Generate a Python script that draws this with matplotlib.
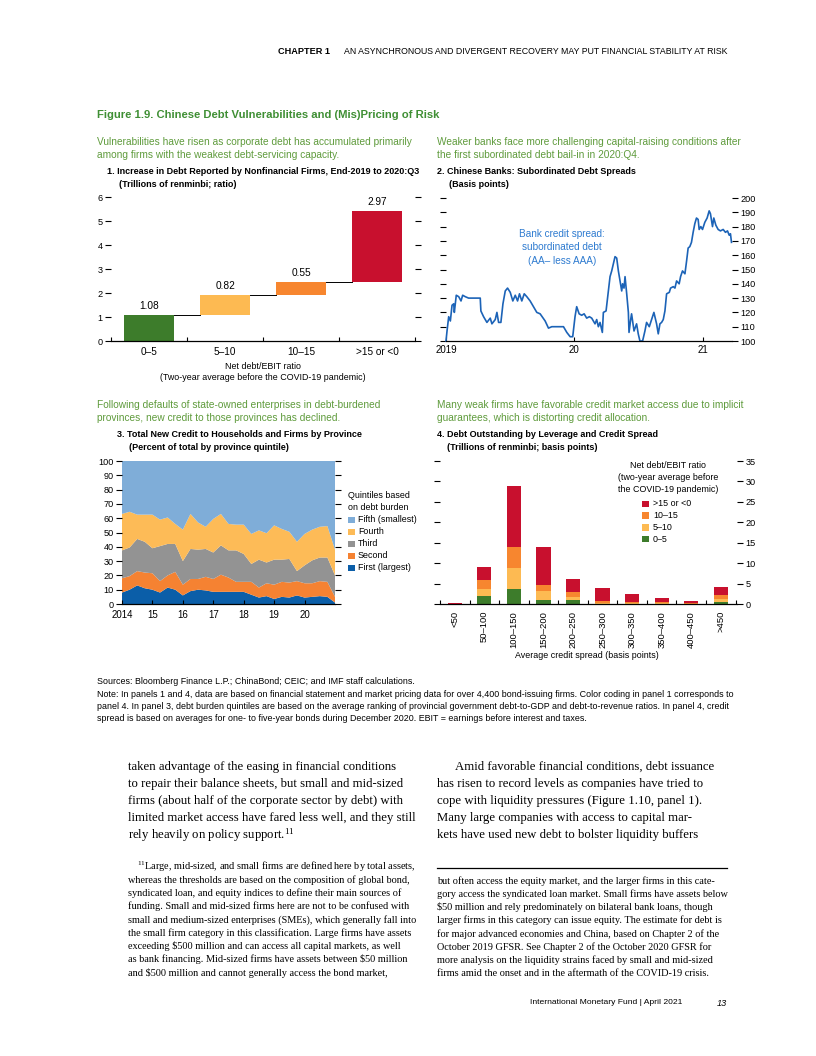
import numpy as np
import pandas as pd
import matplotlib
matplotlib.use('Agg')
import matplotlib.pyplot as plt
from matplotlib.patches import Rectangle

plt.rcParams['font.family'] = ['Liberation Sans', 'DejaVu Sans']
plt.rcParams['mathtext.fontset'] = 'custom'
plt.rcParams['mathtext.rm'] = 'Liberation Serif'
plt.rcParams['mathtext.it'] = 'Liberation Serif:italic'

SERIF = ['Liberation Serif', 'DejaVu Serif']

# colours
GREEN = '#3d7c2b'
YELLOW = '#fdba52'
ORANGE = '#f7862f'
RED = '#c8102e'
LINE_BLUE = '#1c63b7'
TEXT_BLUE = '#2e7bd0'
Q_FIFTH = '#7fadd8'
Q_FOURTH = '#fdbb57'
Q_THIRD = '#939393'
Q_SECOND = '#f58232'
Q_FIRST = '#0b5ea8'
TITLE_GREEN = '#3f8f34'
SUB_GREEN = '#5f9b3c'

# panel 1: increase in debt by net debt/EBIT group (trillions of renminbi)
p1_groups = ['0\u20135', '5\u201310', '10\u201315', '>15 or <0']
p1_increase = [1.08, 0.82, 0.55, 2.97]

# panel 2: subordinated debt spread, AA- less AAA (basis points), by year
p2_years = [0.000, 0.008, 0.021, 0.034, 0.047, 0.060, 0.065, 0.080, 0.099, 0.117,
            0.130, 0.150, 0.176, 0.202, 0.267, 0.272, 0.293, 0.319, 0.345, 0.358,
            0.384, 0.397, 0.410, 0.428, 0.444, 0.462, 0.480, 0.501, 0.521, 0.540,
            0.558, 0.573, 0.591, 0.610, 0.630, 0.656, 0.682, 0.708, 0.734, 0.773,
            0.799, 0.825, 0.864, 0.916, 0.942, 0.968, 0.988, 1.006, 1.019, 1.038,
            1.058, 1.077, 1.097, 1.118, 1.136, 1.162, 1.175, 1.188, 1.201, 1.219,
            1.227, 1.248, 1.266, 1.279, 1.292, 1.305, 1.318, 1.331, 1.344, 1.357,
            1.370, 1.377, 1.388, 1.396, 1.409, 1.422, 1.427, 1.440, 1.447, 1.466,
            1.486, 1.499, 1.512, 1.533, 1.551, 1.564, 1.585, 1.603, 1.621, 1.642,
            1.655, 1.668, 1.681, 1.694, 1.707, 1.720, 1.741, 1.751, 1.772, 1.785,
            1.798, 1.818, 1.829, 1.844, 1.863, 1.876, 1.888, 1.901, 1.914, 1.927,
            1.940, 1.953, 1.966, 1.974, 1.987, 2.000, 2.018, 2.036, 2.052, 2.062,
            2.078, 2.088, 2.104, 2.122, 2.140, 2.161, 2.179, 2.195, 2.208, 2.218,
            2.226]
p2_spread = [100, 107, 117, 114, 125, 126, 120, 132, 131, 128,
             132, 131, 130, 130, 130, 121, 117, 113, 116, 112,
             115, 120, 113, 113, 126, 135, 137, 134, 128, 132,
             128, 133, 128, 133, 131, 128, 124, 120, 119, 114,
             109, 110, 110, 110, 106, 103, 103, 117, 124, 119,
             118, 119, 116, 117, 116, 112, 115, 110, 113, 106,
             120, 121, 135, 145, 149, 154, 159, 158, 149, 142,
             135, 140, 137, 145, 133, 120, 106, 115, 119, 107,
             112, 105, 100, 100, 107, 113, 110, 115, 120, 112,
             105, 112, 113, 115, 121, 133, 134, 137, 138, 137,
             142, 140, 145, 149, 147, 156, 165, 166, 169, 176,
             182, 186, 185, 178, 180, 178, 183, 186, 191, 189,
             180, 186, 181, 178, 177, 178, 176, 177, 174, 175,
             169]

# panel 3: share of new credit by province quintile (percent)
p3_quarters = pd.period_range('2014Q1', '2021Q1', freq='Q')
p3_first = [8, 10, 13, 11, 10, 8, 11.5, 10, 6, 9, 10, 9.5, 8.5, 8.5, 8.5,
            8.5, 8.5, 6.5, 4.5, 5.5, 3.5, 5, 4.5, 6, 4.5, 5, 5.5, 5, 1]
p3_second = [10, 9.5, 10, 11, 11.5, 8, 8.5, 12.5, 7.5, 8.5, 7.5, 9.5, 9, 12, 10,
             7, 7, 9, 7, 9, 10, 10.5, 10.5, 10, 10, 9.5, 10.5, 10.5, 4]
p3_third = [19.5, 20, 22.5, 21.5, 17.5, 24.5, 22, 19.5, 16.5, 21, 20.5, 19.5, 18.5, 20.5, 19,
            22, 19.5, 12.5, 19.5, 14.5, 17.5, 15.5, 16.5, 7, 12.5, 16, 16.5, 17, 15]
p3_fourth = [25.5, 25, 17, 19, 23.5, 18.5, 18.5, 14, 22, 24.5, 19, 15.5, 23.5, 22, 18.5,
             18, 20.5, 21, 20.5, 20.5, 24, 21.5, 19, 20.5, 22, 21.5, 21.5, 22, 18]
p3_fifth = [37, 35.5, 37.5, 37.5, 37.5, 41, 39.5, 44, 48, 37, 43, 46, 40.5, 37, 44,
            44.5, 44.5, 51, 48.5, 50.5, 45, 47.5, 49.5, 56.5, 51, 48, 46, 45.5, 62]
p3_legend = ['Fifth (smallest)', 'Fourth', 'Third', 'Second', 'First (largest)']

# panel 4: debt outstanding by credit spread bucket and leverage (trillions of renminbi)
p4_buckets = ['<50', '50\u2013100', '100\u2013150', '150\u2013200', '200\u2013250',
              '250\u2013300', '300\u2013350', '350\u2013400', '400\u2013450', '>450']
p4_0_5 = [0.0, 1.9, 3.6, 0.9, 0.9, 0.1, 0.05, 0.05, 0.0, 0.45]
p4_5_10 = [0.0, 1.7, 5.1, 2.2, 0.7, 0.15, 0.3, 0.1, 0.05, 0.7]
p4_10_15 = [0.05, 2.2, 5.2, 1.5, 1.3, 0.4, 0.15, 0.3, 0.15, 0.95]
p4_15_plus = [0.25, 3.2, 15.1, 9.3, 3.1, 3.35, 1.9, 0.95, 0.45, 2.0]
p4_legend = ['>15 or <0', '10\u201315', '5\u201310', '0\u20135']

W, H = 816, 1056
fig = plt.figure(figsize=(W / 100, H / 100), dpi=100)

SUB = 7.25     # green lead-in text
TTL = 6.45     # bold panel titles
TICK = 6.6
LEG = 6.4


def box(l, t, r, b):
    return [l / W, 1 - b / H, (r - l) / W, (b - t) / H]


def ftext(x, y, s, **kw):
    kw.setdefault('va', 'center')
    kw.setdefault('ha', 'left')
    return fig.text(x / W, 1 - y / H, s, **kw)


def swatch(x, y, color, size=7):
    fig.add_artist(Rectangle((x / W, 1 - (y + size / 2) / H), size / W, size / H,
                             transform=fig.transFigure, color=color, lw=0))


def style(ax, left_labels):
    for s in ['top', 'left', 'right']:
        ax.spines[s].set_visible(False)
    ax.spines['bottom'].set_linewidth(0.9)
    ax.tick_params(axis='y', which='both', left=True, right=True, length=4, width=0.8,
                   direction='out', labelsize=TICK, pad=2,
                   labelleft=left_labels, labelright=not left_labels)
    ax.tick_params(axis='x', labelsize=TICK)


# header
ftext(727, 52, 'AN ASYNCHRONOUS AND DIVERGENT RECOVERY MAY PUT FINANCIAL STABILITY AT RISK',
      ha='right', fontsize=6.3)
ftext(330, 52, 'CHAPTER 1', ha='right', fontsize=6.6, fontweight='bold')
ftext(97, 115, 'Figure 1.9. Chinese Debt Vulnerabilities and (Mis)Pricing of Risk',
      fontsize=8.1, fontweight='bold', color=TITLE_GREEN)

# ---------- panel 1 ----------
ftext(97, 142, 'Vulnerabilities have risen as corporate debt has accumulated primarily',
      fontsize=SUB, color=SUB_GREEN)
ftext(97, 155, 'among firms with the weakest debt-servicing capacity.', fontsize=SUB, color=SUB_GREEN)
ftext(107, 172, '1. Increase in Debt Reported by Nonfinancial Firms, End-2019 to 2020:Q3',
      fontsize=TTL, fontweight='bold')
ftext(119, 184, '(Trillions of renminbi; ratio)', fontsize=TTL, fontweight='bold')

ax1 = fig.add_axes(box(111, 197, 415, 341))
p1_x = np.arange(len(p1_increase))
p1_bottom = np.concatenate([[0], np.cumsum(p1_increase)[:-1]])
p1_top = np.cumsum(p1_increase)
bw = 0.67
ax1.bar(p1_x, p1_increase, bottom=p1_bottom, width=bw,
        color=[GREEN, YELLOW, ORANGE, RED], lw=0)
for i in range(len(p1_increase) - 1):
    ax1.plot([p1_x[i] + bw / 2, p1_x[i + 1] - bw / 2], [p1_top[i], p1_top[i]],
             color='black', lw=0.7)
for i, v in enumerate(p1_increase):
    ax1.annotate(f'{v:.2f}', (p1_x[i], p1_top[i]), xytext=(0, 3),
                 textcoords='offset points', ha='center', va='bottom', fontsize=7.3)
ax1.set_xlim(-0.5, 3.5)
ax1.set_ylim(0, 6)
ax1.set_yticks(range(0, 7))
style(ax1, True)
ax1.set_xticks(p1_x, p1_groups)
ax1.set_xticks(np.arange(-0.5, 4, 1), minor=True)
ax1.tick_params(axis='x', which='major', length=0, pad=4, labelsize=7.2)
ax1.tick_params(axis='x', which='minor', length=3, width=0.8, direction='in')
ftext(263, 366, 'Net debt/EBIT ratio', ha='center', fontsize=6.4)
ftext(263, 378, '(Two-year average before the COVID-19 pandemic)', ha='center', fontsize=6.4)

# ---------- panel 2 ----------
ftext(437, 142, 'Weaker banks face more challenging capital-raising conditions after',
      fontsize=SUB, color=SUB_GREEN)
ftext(437, 155, 'the first subordinated debt bail-in in 2020:Q4.', fontsize=SUB, color=SUB_GREEN)
ftext(437, 172, '2. Chinese Banks: Subordinated Debt Spreads', fontsize=TTL, fontweight='bold')
ftext(449, 184, '(Basis points)', fontsize=TTL, fontweight='bold')

ax2 = fig.add_axes(box(446, 198, 732, 341))
ax2.plot(2019 + np.array(p2_years), p2_spread, color=LINE_BLUE, lw=1.2, clip_on=False)
ax2.set_xlim(2019, 2021.23)
ax2.set_ylim(100, 200)
ax2.set_yticks(range(100, 201, 10))
style(ax2, False)
ax2.set_xticks([2019, 2020, 2021], ['2019', '20', '21'])
ax2.tick_params(axis='x', length=3, width=0.8, direction='in', pad=3, labelsize=7)
ftext(562, 234, 'Bank credit spread:', ha='center', fontsize=7.2, color=TEXT_BLUE)
ftext(562, 247, 'subordinated debt', ha='center', fontsize=7.2, color=TEXT_BLUE)
ftext(562, 261, '(AA\u2013 less AAA)', ha='center', fontsize=7.2, color=TEXT_BLUE)

# ---------- panel 3 ----------
ftext(97, 405, 'Following defaults of state-owned enterprises in debt-burdened',
      fontsize=SUB, color=SUB_GREEN)
ftext(97, 418, 'provinces, new credit to those provinces has declined.', fontsize=SUB, color=SUB_GREEN)
ftext(117, 435, '3. Total New Credit to Households and Firms by Province', fontsize=TTL, fontweight='bold')
ftext(129, 447, '(Percent of total by province quintile)', fontsize=TTL, fontweight='bold')

ax3 = fig.add_axes(box(122, 461, 335, 604))
p3_x = p3_quarters.year + (p3_quarters.quarter - 1) / 4
ax3.stackplot(p3_x, p3_first, p3_second, p3_third, p3_fourth, p3_fifth,
              colors=[Q_FIRST, Q_SECOND, Q_THIRD, Q_FOURTH, Q_FIFTH], lw=0)
ax3.set_xlim(2014, 2021)
ax3.set_ylim(0, 100)
ax3.set_yticks(range(0, 101, 10))
style(ax3, True)
ax3.set_xticks(range(2014, 2021), ['2014', '15', '16', '17', '18', '19', '20'])
ax3.tick_params(axis='x', length=3, width=0.8, direction='in', pad=4, labelsize=7)
ftext(348, 496, 'Quintiles based', fontsize=LEG)
ftext(348, 508, 'on debt burden', fontsize=LEG)
for k, (lab, col) in enumerate(zip(p3_legend, [Q_FIFTH, Q_FOURTH, Q_THIRD, Q_SECOND, Q_FIRST])):
    yy = 520 + 12 * k
    swatch(348, yy, col, 6.5)
    ftext(358, yy, lab, fontsize=LEG)

# ---------- panel 4 ----------
ftext(437, 405, 'Many weak firms have favorable credit market access due to implicit',
      fontsize=SUB, color=SUB_GREEN)
ftext(437, 418, 'guarantees, which is distorting credit allocation.', fontsize=SUB, color=SUB_GREEN)
ftext(437, 435, '4. Debt Outstanding by Leverage and Credit Spread', fontsize=TTL, fontweight='bold')
ftext(447, 447, '(Trillions of renminbi; basis points)', fontsize=TTL, fontweight='bold')

ax4 = fig.add_axes(box(440, 461, 737, 604))
p4_x = np.arange(len(p4_buckets))
bw4 = 0.48
b = np.zeros(len(p4_buckets))
for vals, col in [(p4_0_5, GREEN), (p4_5_10, YELLOW), (p4_10_15, ORANGE), (p4_15_plus, RED)]:
    ax4.bar(p4_x, vals, bottom=b, width=bw4, color=col, lw=0)
    b = b + np.array(vals)
ax4.set_xlim(-0.5, 9.55)
ax4.set_ylim(0, 35)
ax4.set_yticks(range(0, 36, 5))
style(ax4, False)
ax4.set_xticks(p4_x, p4_buckets, rotation=90)
ax4.set_xticks(np.arange(-0.5, 10, 1), minor=True)
ax4.tick_params(axis='x', which='major', length=0, pad=5, labelsize=6.8)
ax4.tick_params(axis='x', which='minor', length=3, width=0.8, direction='in')
ftext(587, 656, 'Average credit spread (basis points)', ha='center', fontsize=LEG)
ftext(668, 466, 'Net debt/EBIT ratio', ha='center', fontsize=LEG)
ftext(668, 478, '(two-year average before', ha='center', fontsize=LEG)
ftext(668, 490, 'the COVID-19 pandemic)', ha='center', fontsize=LEG)
for k, (lab, col) in enumerate(zip(p4_legend, [RED, ORANGE, YELLOW, GREEN])):
    yy = 504 + 11.7 * k
    swatch(642, yy, col, 6.5)
    ftext(653, yy, lab, fontsize=LEG)

# ---------- sources and notes ----------
notes = [
    'Sources: Bloomberg Finance L.P.; ChinaBond; CEIC; and IMF staff calculations.',
    'Note: In panels 1 and 4, data are based on financial statement and market pricing data for over 4,400 bond-issuing firms. Color coding in panel 1 corresponds to',
    'panel 4. In panel 3, debt burden quintiles are based on the average ranking of provincial government debt-to-GDP and debt-to-revenue ratios. In panel 4, credit',
    'spread is based on averages for one- to five-year bonds during December 2020. EBIT = earnings before interest and taxes.',
]
for k, s in enumerate(notes):
    ftext(97, 682 + 12.2 * k, s, fontsize=6.4)

# ---------- body text ----------
body_left = [
    'taken advantage of the easing in financial conditions',
    'to repair their balance sheets, but small and mid-sized',
    'firms (about half of the corporate sector by debt) with',
    'limited market access have fared less well, and they still',
    r'rely heavily on policy support.$^{11}$',
]
body_right = [
    'has risen to record levels as companies have tried to',
    'cope with liquidity pressures (Figure 1.10, panel 1).',
    'Many large companies with access to capital mar-',
    'kets have used new debt to bolster liquidity buffers',
]
BODY = 9.2
for k, s in enumerate(body_left):
    ftext(128, 767 + 17 * k, s, fontsize=BODY, family=SERIF)
ftext(455, 767, 'Amid favorable financial conditions, debt issuance', fontsize=BODY, family=SERIF)
for k, s in enumerate(body_right):
    ftext(437, 784 + 17 * k, s, fontsize=BODY, family=SERIF)

foot_left = [
    'whereas the thresholds are based on the composition of global bond,',
    'syndicated loan, and equity indices to define their main sources of',
    'funding. Small and mid-sized firms here are not to be confused with',
    'small and medium-sized enterprises (SMEs), which generally fall into',
    'the small firm category in this classification. Large firms have assets',
    'exceeding $500 million and can access all capital markets, as well',
    'as bank financing. Mid-sized firms have assets between $50 million',
    'and $500 million and cannot generally access the bond market,',
]
foot_right = [
    'but often access the equity market, and the larger firms in this cate-',
    'gory access the syndicated loan market. Small firms have assets below',
    '$50 million and rely predominately on bilateral bank loans, though',
    'larger firms in this category can issue equity. The estimate for debt is',
    'for major advanced economies and China, based on Chapter 2 of the',
    'October 2019 GFSR. See Chapter 2 of the October 2020 GFSR for',
    'more analysis on the liquidity strains faced by small and mid-sized',
    'firms amid the onset and in the aftermath of the COVID-19 crisis.',
]
FOOT = 7.35
ftext(137, 867, r'$^{11}$Large, mid-sized, and small firms are defined here by total assets,',
      fontsize=FOOT, family=SERIF)
for k, s in enumerate(foot_left):
    ftext(128, 880.2 + 13.2 * k, s, fontsize=FOOT, family=SERIF)
fig.add_artist(plt.Line2D([437 / W, 727 / W], [1 - 868 / H, 1 - 868 / H],
                          transform=fig.transFigure, color='black', lw=0.9))
for k, s in enumerate(foot_right):
    ftext(437, 881 + 13.2 * k, s, fontsize=FOOT, family=SERIF)

# footer
ftext(682, 1003, 'International Monetary Fund | April 2021', ha='right', fontsize=6.1)
ftext(727, 1003, '13', ha='right', fontsize=6.6, style='italic')

fig.savefig('out.png', dpi=100)
